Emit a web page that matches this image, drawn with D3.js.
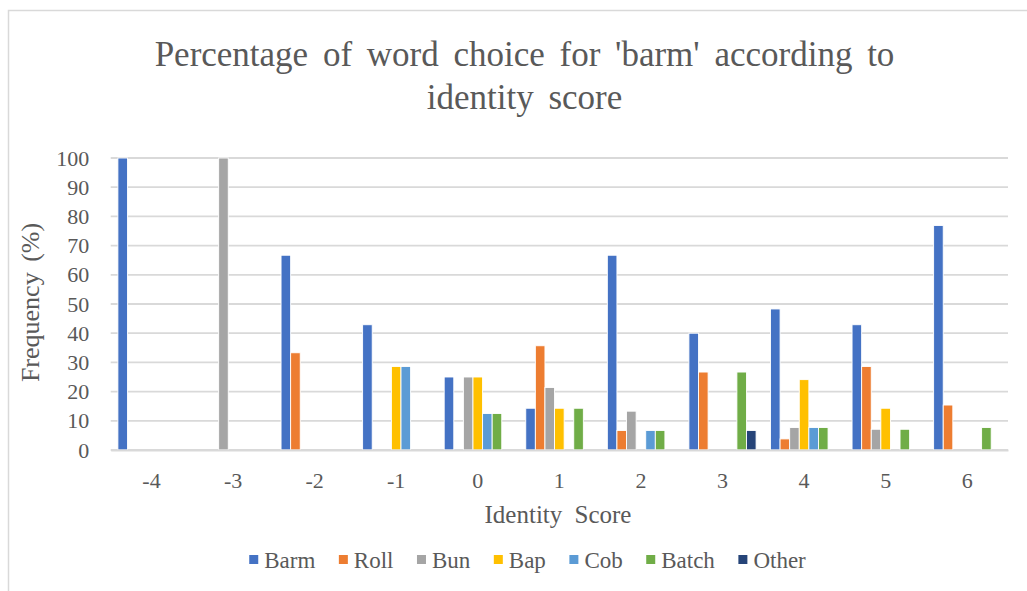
<!DOCTYPE html>
<html>
<head>
<meta charset="utf-8">
<script src="https://cdn.jsdelivr.net/npm/d3@7"></script>
<style>
  html, body { margin: 0; padding: 0; background: #fff; }
  svg { display: block; }
</style>
</head>
<body>
<svg id="chart" width="1027" height="591"></svg>
<script>
// Identity score categories and word-choice percentages per series
const categories = ["-4", "-3", "-2", "-1", "0", "1", "2", "3", "4", "5", "6"];
const seriesNames = ["Barm", "Roll", "Bun", "Bap", "Cob", "Batch", "Other"];
const seriesColors = ["#4472C4", "#ED7D31", "#A5A5A5", "#FFC000", "#5B9BD5", "#70AD47", "#264478"];

const barm  = [100, 0, 66.7, 42.9, 25, 14.3, 66.7, 40, 48.3, 42.9, 76.9];
const roll  = [0, 0, 33.3, 0, 0, 35.7, 6.7, 26.7, 3.8, 28.6, 15.4];
const bun   = [0, 100, 0, 0, 25, 21.4, 13.3, 0, 7.7, 7.1, 0];
const bap   = [0, 0, 0, 28.6, 25, 14.3, 0, 0, 24.1, 14.3, 0];
const cob   = [0, 0, 0, 28.6, 12.5, 0, 6.7, 0, 7.7, 0, 0];
const batch = [0, 0, 0, 0, 12.5, 14.3, 6.7, 26.7, 7.7, 7.1, 7.7];
const other = [0, 0, 0, 0, 0, 0, 0, 6.7, 0, 0, 0];

const yTicks = [0, 10, 20, 30, 40, 50, 60, 70, 80, 90, 100];

const titleLines = ["Percentage of word choice for 'barm' according to", "identity score"];
const xTitle = "Identity Score";
const yTitle = "Frequency (%)";

const seriesValues = [barm, roll, bun, bap, cob, batch, other];
const FONT = "Liberation Serif";
const INK = "#595959";

const svg = d3.select("#chart");
const W = 1027, H = 591;
const plot = { left: 110.7, right: 1008, top: 158, bottom: 450 };

// Chart frame
svg.append("rect")
  .attr("x", 8.5).attr("y", 10.5)
  .attr("width", W + 20).attr("height", H + 20)
  .attr("fill", "#fff").attr("stroke", "#D9D9D9").attr("stroke-width", 1.5);

// Title
svg.append("text")
  .attr("text-anchor", "middle")
  .attr("font-family", FONT)
  .attr("font-size", 35)
  .attr("word-spacing", 6)
  .attr("fill", INK)
  .selectAll("tspan")
  .data(titleLines)
  .join("tspan")
  .attr("x", 524.5)
  .attr("y", (d, i) => 66 + i * 43)
  .text(d => d);

const x0 = d3.scaleBand().domain(categories).range([plot.left, plot.right]).paddingInner(0).paddingOuter(0);
// gap width 150% between category groups
const gapFrac = 1.5 / (seriesNames.length + 1.5) / 2;
const x1 = d3.scaleBand().domain(seriesNames)
  .range([x0.bandwidth() * gapFrac, x0.bandwidth() * (1 - gapFrac)]).padding(0);
const y = d3.scaleLinear().domain([0, 100]).range([plot.bottom, plot.top]);

// Gridlines
svg.append("g")
  .selectAll("line")
  .data(yTicks)
  .join("line")
  .attr("x1", plot.left).attr("x2", plot.right)
  .attr("y1", d => y(d)).attr("y2", d => y(d))
  .attr("stroke", "#D9D9D9").attr("stroke-width", 1.8);

// Bars
const groups = svg.append("g")
  .selectAll("g")
  .data(categories)
  .join("g")
  .attr("transform", d => `translate(${x0(d)},0)`);

groups.selectAll("rect")
  .data((c, ci) => seriesNames.map((s, si) => ({ s, si, v: seriesValues[si][ci] })).filter(d => d.v > 0))
  .join("rect")
  .attr("x", d => x1(d.s))
  .attr("width", x1.bandwidth())
  .attr("y", d => y(d.v))
  .attr("height", d => y(0) - y(d.v))
  .attr("fill", d => seriesColors[d.si])
  .attr("stroke", "#fff").attr("stroke-width", 0.9);

// Category axis
const xAxis = d3.axisBottom(x0).tickSize(0).tickPadding(22);
const gx = svg.append("g").attr("transform", `translate(0,${plot.bottom})`).call(xAxis)
  .attr("font-family", FONT).attr("font-size", 22);
gx.select(".domain").attr("stroke", "#D9D9D9").attr("stroke-width", 1.8);
gx.selectAll("text").attr("fill", INK);

// Value axis
const yAxis = d3.axisLeft(y).tickValues(yTicks).tickSize(0).tickPadding(21.5);
const gy = svg.append("g").attr("transform", `translate(${plot.left},0)`).call(yAxis)
  .attr("font-family", FONT).attr("font-size", 22);
gy.select(".domain").remove();
gy.selectAll("text").attr("fill", INK);

// Axis titles
svg.append("text")
  .attr("x", 558).attr("y", 523)
  .attr("text-anchor", "middle").attr("font-family", FONT).attr("font-size", 25)
  .attr("word-spacing", 6).attr("fill", INK)
  .text(xTitle);

svg.append("text")
  .attr("transform", "translate(39,302.5) rotate(-90)")
  .attr("text-anchor", "middle").attr("font-family", FONT).attr("font-size", 26)
  .attr("word-spacing", 4).attr("fill", INK)
  .text(yTitle);

// Legend
const legend = svg.append("g");
const items = legend.selectAll("g").data(seriesNames).join("g");
items.append("rect")
  .attr("width", 9).attr("height", 9).attr("y", -13)
  .attr("fill", (d, i) => seriesColors[i]);
items.append("text")
  .attr("x", 15).attr("font-family", FONT).attr("font-size", 23).attr("fill", INK)
  .text(d => d);
const itemGap = 23.5;
let cursor = 0;
items.each(function () {
  const g = d3.select(this);
  g.attr("transform", `translate(${cursor},0)`);
  const w = g.select("text").node().getComputedTextLength();
  cursor += 15 + w + itemGap;
});
const total = cursor - itemGap;
legend.attr("transform", `translate(${527.5 - total / 2},568)`);
</script>
</body>
</html>
